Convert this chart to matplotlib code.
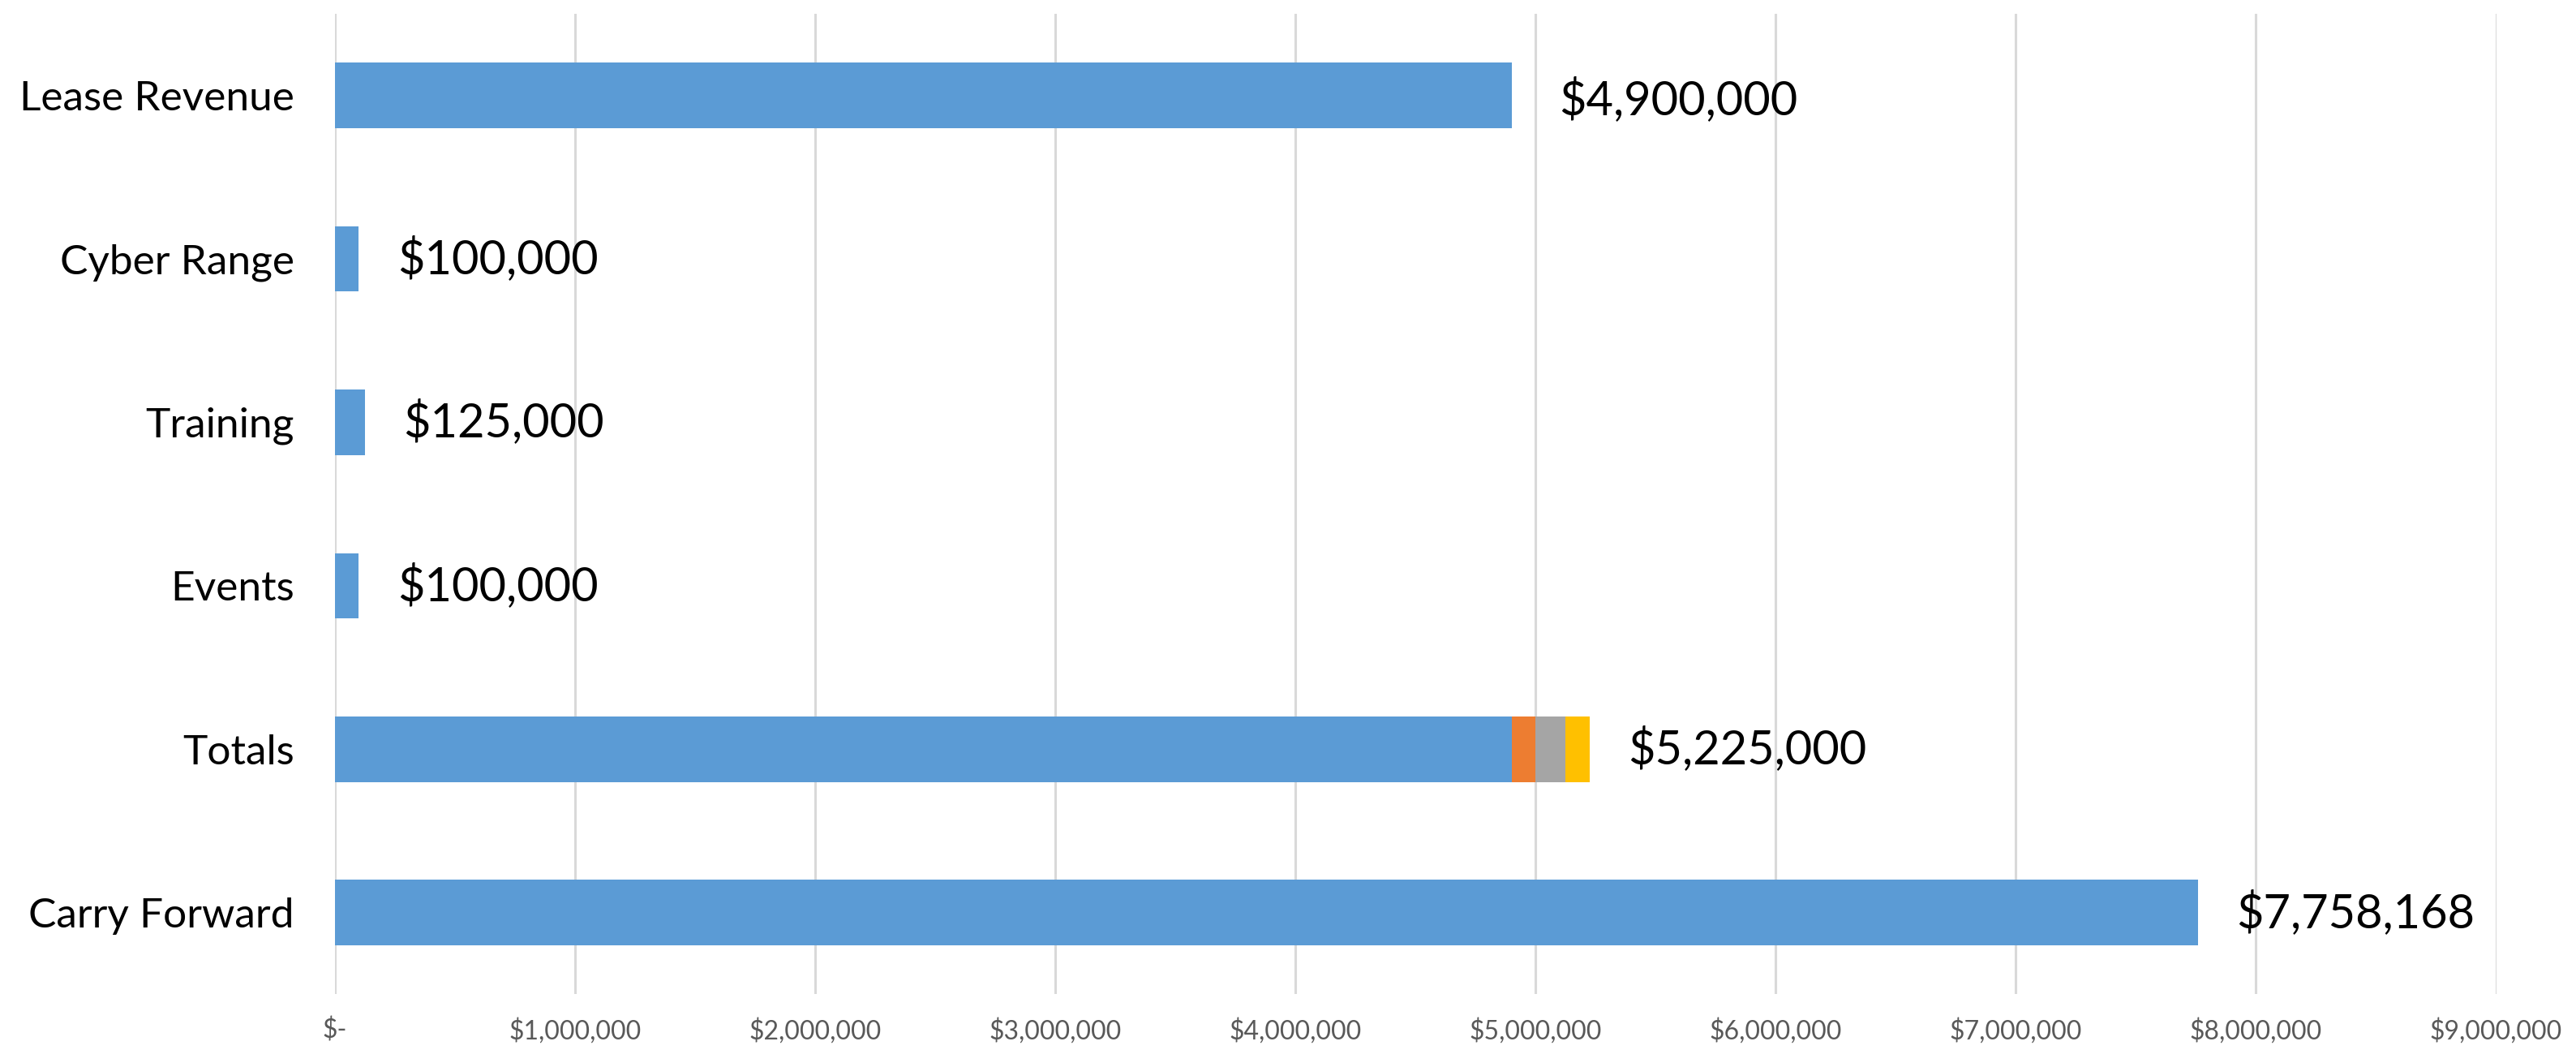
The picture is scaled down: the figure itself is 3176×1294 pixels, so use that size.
import matplotlib
matplotlib.use("Agg")
import matplotlib.pyplot as plt
from matplotlib.ticker import FuncFormatter, MultipleLocator

categories = ["Lease Revenue", "Cyber Range", "Training", "Events", "Totals", "Carry Forward"]
single_values = [4900000, 100000, 125000, 100000, None, 7758168]
totals_parts = [4900000, 100000, 125000, 100000]
totals_colors = ["#5B9BD5", "#ED7D31", "#A5A5A5", "#FFC000"]
value_labels = ["$4,900,000", "$100,000", "$125,000", "$100,000", "$5,225,000", "$7,758,168"]
x_max = 9000000
x_step = 1000000

plt.rcParams['font.family'] = ['Lato', 'DejaVu Sans']

fig = plt.figure(figsize=(15.88, 6.47), dpi=200)
ax = fig.add_axes([0.130, 0.053, 0.839, 0.934])

blue = "#5B9BD5"
bar_h = 0.40
ends = []
for i, cat in enumerate(categories):
    if single_values[i] is not None:
        ax.barh(i, single_values[i], height=bar_h, color=blue, zorder=3)
        ends.append(single_values[i])
    else:
        left = 0
        for v, c in zip(totals_parts, totals_colors):
            ax.barh(i, v, left=left, height=bar_h, color=c, zorder=3)
            left += v
        ends.append(left)

for i, (e, lab) in enumerate(zip(ends, value_labels)):
    off = 21 if i == 0 else 17
    dy = -2 if i == 0 else 0
    ax.annotate(lab, xy=(e, i), xytext=(off, dy), textcoords="offset points",
                ha="left", va="center", fontsize=20.8, color="black")

ax.set_xlim(0, x_max)
ax.set_ylim(len(categories) - 0.5, -0.5)
ax.set_yticks(range(len(categories)))
ax.set_yticklabels(categories, fontsize=18.5, color="black")
ax.xaxis.set_major_locator(MultipleLocator(x_step))

def fmt(v, pos):
    if v == 0:
        return "$-"
    return "${:,.0f}".format(v)

ax.xaxis.set_major_formatter(FuncFormatter(fmt))
ax.tick_params(axis="x", labelsize=11.5, labelcolor="#595959", length=0, pad=10.5)
ax.tick_params(axis="y", length=0, pad=18)
ax.grid(axis="x", color="#D9D9D9", linewidth=1.1, zorder=0)
ax.set_axisbelow(True)
for s in ax.spines.values():
    s.set_visible(False)
ax.set_facecolor("none")
fig.patch.set_facecolor("white")

fig.savefig("out.png", dpi=200, facecolor="white")
